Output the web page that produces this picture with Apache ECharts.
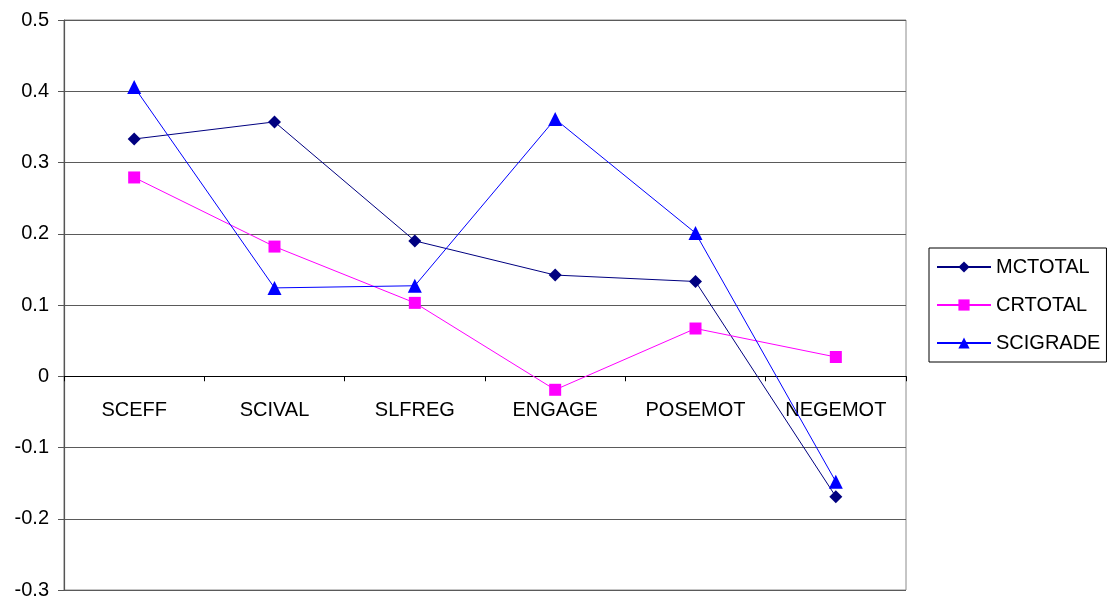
<!DOCTYPE html>
<html>
<head>
<meta charset="utf-8">
<script src="https://cdn.jsdelivr.net/npm/echarts@6/dist/echarts.min.js"></script>
<style>
  html, body { margin: 0; padding: 0; background: #fff; }
  #chart { width: 1110px; height: 600px; }
</style>
</head>
<body>
<div id="chart"></div>
<script>
// Scales and their correlations with each outcome measure
const categories = ['SCEFF', 'SCIVAL', 'SLFREG', 'ENGAGE', 'POSEMOT', 'NEGEMOT'];
const mcTotal  = [0.333, 0.357, 0.190, 0.142, 0.133, -0.169];
const crTotal  = [0.279, 0.182, 0.103, -0.019, 0.067, 0.027];
const sciGrade = [0.406, 0.124, 0.127, 0.361, 0.201, -0.148];
const yTicks = { min: -0.3, max: 0.5, step: 0.1 };

const FONT = '"Liberation Sans", Arial, sans-serif';

// Plot box in pixels
const GRID = { left: 64, right: 204, top: 20, bottom: 10 };
const plotHeight = 600 - GRID.top - GRID.bottom;
// distance of the zero line above the bottom edge of the plot
const zeroLift = plotHeight * (0 - yTicks.min) / (yTicks.max - yTicks.min);

const chart = echarts.init(document.getElementById('chart'), null, { renderer: 'canvas' });

function lineSeries(name, data, color, symbol, size) {
  return {
    name: name,
    type: 'line',
    data: data,
    xAxisIndex: 0,
    symbol: symbol,
    symbolSize: size,
    showAllSymbol: true,
    lineStyle: { color: color, width: 1 },
    itemStyle: { color: color, borderWidth: 0 },
    emphasis: { disabled: true },
    z: 3
  };
}

chart.setOption({
  backgroundColor: '#ffffff',
  animation: false,
  textStyle: { fontFamily: FONT },
  grid: {
    left: GRID.left, right: GRID.right, top: GRID.top, bottom: GRID.bottom,
    containLabel: false,
    outerBoundsMode: 'none',
    show: true, borderColor: '#8c8c8c', borderWidth: 1
  },
  legend: {
    orient: 'vertical',
    left: 929, top: 248,
    padding: [8, 6, 8, 7],
    borderColor: '#000', borderWidth: 1,
    backgroundColor: '#fff',
    itemWidth: 54, itemHeight: 14, itemGap: 16,
    textStyle: { fontSize: 20, color: '#000', fontFamily: FONT, lineHeight: 22 },
    data: ['MCTOTAL', 'CRTOTAL', 'SCIGRADE']
  },
  xAxis: [
    {
      // category axis drawn through zero
      type: 'category',
      data: categories,
      boundaryGap: true,
      axisLine: { onZero: true, lineStyle: { color: '#000', width: 1.2 } },
      axisTick: { show: true, length: 5, inside: false, lineStyle: { color: '#000' } },
      axisLabel: { show: false },
      splitLine: { show: false }
    },
    {
      // category names sitting just below the zero line
      type: 'category',
      data: categories,
      position: 'bottom',
      offset: -zeroLift,
      boundaryGap: true,
      axisLine: { show: false, onZero: false },
      axisTick: { show: false },
      axisLabel: { fontSize: 20, color: '#000', margin: 24, fontFamily: FONT },
      splitLine: { show: false }
    }
  ],
  yAxis: {
    type: 'value',
    min: yTicks.min, max: yTicks.max, interval: yTicks.step,
    axisLine: { show: true, lineStyle: { color: '#555', width: 1.2 } },
    axisTick: { show: true, length: 6, lineStyle: { color: '#555' } },
    axisLabel: {
      fontSize: 20, color: '#000', margin: 15, fontFamily: FONT,
      formatter: v => String(Number(v.toFixed(1)))
    },
    splitLine: { show: true, lineStyle: { color: '#5a5a5a', width: 1.2 } }
  },
  series: [
    lineSeries('MCTOTAL', mcTotal, '#000080', 'diamond', 13),
    lineSeries('CRTOTAL', crTotal, '#ff00ff', 'rect', 12),
    lineSeries('SCIGRADE', sciGrade, '#0000ff', 'triangle', 14)
  ]
});
</script>
</body>
</html>
